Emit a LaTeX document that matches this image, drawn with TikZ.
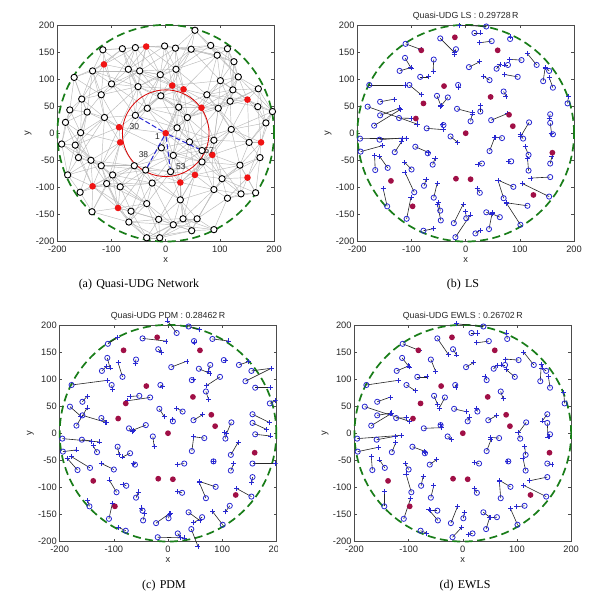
\documentclass[tikz,border=0pt]{standalone}
\usepackage{fontspec}
\setmainfont{Liberation Serif}
\setsansfont{Liberation Sans}
\usetikzlibrary{shapes.misc}
\definecolor{grn}{RGB}{25,125,25}
\definecolor{anch}{RGB}{160,15,70}
\definecolor{mblue}{RGB}{40,40,210}
\definecolor{ared}{RGB}{240,20,20}
\tikzset{
 framec/.style={draw=black!70, line width=0.5pt},
 ticklab/.style={font=\sffamily\fontsize{9.3}{10}\selectfont, inner sep=0pt, text=black!85},
 titlelab/.style={font=\sffamily\fontsize{8.8}{10}\selectfont, inner sep=0pt, text=black!85},
 caplab/.style={font=\fontsize{12}{14}\selectfont, inner sep=0pt},
 boundary/.style={draw=grn, line width=1.7pt, dash pattern=on 8pt off 4.5pt},
 mesh/.style={draw=black!27, line width=0.45pt},
 snode/.style={circle, draw=black, line width=0.9pt, fill=white, minimum size=6.3pt, inner sep=0pt},
 sanchor/.style={circle, fill=ared, minimum size=6.6pt, inner sep=0pt},
 rangec/.style={draw=red!85!black, line width=0.8pt},
 nbline/.style={draw=mblue, line width=1pt, dash pattern=on 5pt off 2.5pt},
 nlab/.style={font=\sffamily\fontsize{8.5}{9}\selectfont, inner sep=0pt, text=black!85},
 tnode/.style={circle, draw=mblue, line width=0.8pt, minimum size=5.2pt, inner sep=0pt},
 panchor/.style={circle, fill=anch, minimum size=5.8pt, inner sep=0pt},
 estmark/.style={cross out, draw=mblue, rotate=45, line width=0.75pt, minimum size=2.8pt, inner sep=0pt},
 errline/.style={draw=black!85, line width=0.6pt},
 datascope/.style={x=0.5417pt, y=0.5417pt}
}
\newcommand\plotframe[1]{%
  \draw[framec] (-200,-200) rectangle (200,200);
  \foreach \t [count=\k] in {-200,-100,0,100,200}{%
    \draw[framec] (\t,-200) -- (\t,-195) (\t,200) -- (\t,195);
    \node[ticklab,anchor=north] (#1x\k) at (\t,-207) {\t};}
  \foreach \t [count=\k] in {-200,-150,...,200}{%
    \draw[framec] (-200,\t) -- (-195,\t) (200,\t) -- (195,\t);
    \node[ticklab,anchor=east] (#1y\k) at (-205,\t) {\t};}
  \node[ticklab] (#1xl) at (0,-234) {x};
  \node[ticklab,rotate=90] (#1yl) at (-254,0) {y};
}
\def\Alist{54/190/0, -116/154/0, -80/156/0, -56/158/0, -36/160/1, -2/161/0, 18/157/0, 47/155/0, 83/162/0, 114/156/0,
95/144/0, -114/127/1, -135/115/0, -69/118/0, -48/115/0, -10/108/0, 19/118/0, 126/132/0, -169/103/0, 101/97/0,
134/104/0, -100/91/0, -51/86/0, 12/88/1, 33/81/1, 124/80/0, 171/82/0, -155/63/0, -119/71/0, -9/69/0,
76/71/0, -177/43/0, -145/39/0, -34/46/0, 24/48/0, 66/47/1, 97/46/0, 119/59/0, 151/62/1, 170/49/0,
197/40/0, -185/20/0, -113/29/0, -56/33/0, -86/11/1, 40/29/0, 185/19/0, -157/1/0, 0/0/1, 21/10/0,
121/7/0, -192/-20/0, -167/-22/0, -84/-17/1, 44/-16/0, 89/-13/0, 154/-17/0, 176/-17/1, -8/-27/0, 67/-32/0,
86/-40/1, 14/-41/0, -161/-45/0, -138/-50/0, 67/-53/0, 174/-45/0, -119/-60/0, -58/-60/0, 137/-59/0, -98/-77/0,
-37/-68/0, 9/-71/0, 54/-77/1, 151/-82/1, -181/-77/0, 104/-84/0, -135/-98/1, -109/-93/0, -84/-99/0, -25/-92/0,
27/-91/1, -158/-109/0, 89/-104/0, 114/-120/0, 139/-112/0, 166/-110/0, 27/-123/0, -35/-130/0, -88/-138/1, -136/-145/0,
-64/-144/0, -68/-164/0, -13/-159/0, 14/-169/0, 32/-158/0, 58/-158/0, 48/-180/0, 89/-178/0, -35/-193/0, -11/-193/0}
\def\Blist{38/197/-80/-4/32/10/-80/-8, 16/185/19/0/-27/-36/17/0, 48/170/-36/5/2/4/-36/5, 82/174/0/-6/48/6/-2/-18,
-111/165/46/17/30/-20/50/20, -47/175/43/43/70/8/33/48, -18/155/-5/15/10/10/10/17, -112/139/18/30/8/30/21/27,
-122/115/34/-10/14/-14/36/-15, -59/136/-2/35/-3/12/14/35, -84/104/26/0/-13/-42/29/0, -178/89/108/0/107/-14/95/-14,
-104/89/35/29/3/14/26/17, -14/89/0/6/7/4/2/6, 6/122/32/-16/47/-18/23/-14, 57/119/10/-12/33/14/10/-11,
78/126/-10/0/-5/18/-10/0, 103/135/-35/-2/4/0/-40/-3, 131/126/-28/-34/29/-10/-30/-38, 96/104/-39/-7/-40/26/-25/-21,
44/98/-18/-12/4/-3/-5/-10, 143/96/6/-42/78/-39/3/-50, 154/115/-10/-9/60/-8/-13/-9, 161/84/-11/-30/45/0/-5/-35,
70/77/7/14/8/24/7/21, -33/66/-22/27/-68/10/-17/32, -53/69/12/30/-28/2/10/25, -158/58/42/-8/14/-17/39/-14,
-181/49/148/52/32/28/134/44, -158/33/59/-22/70/21/42/-7, -169/14/78/-48/32/-53/58/-35, -123/28/36/1/15/13/30/-1,
-16/45/46/12/15/24/37/9, 9/22/5/-22/-1/-5/5/-13, 27/40/0/-18/-18/-10/-2/-10, 47/24/49/-20/28/-17/25/-14,
-72/9/50/4/10/10/53/-2, -41/15/-2/-1/-38/15/0/-2, -28/-6/20/17/4/30/12/8, 67/-9/-21/-3/-33/-4/-25/-2,
44/-33/16/-42/6/-45/13/-34, 106/-10/-9/-12/-2/-18/-7/-19, 117/20/-25/42/-14/32/-22/30, 156/35/-3/12/51/25/-15/20,
156/19/4/31/43/20/2/42, 161/-2/-5/-2/45/5/-3/6, -195/-10/138/-1/112/10/134/-10, -159/-12/67/-5/30/4/55/-10,
-194/-34/66/-18/40/-5/62/-13, -131/-35/21/-32/-12/-19/12/-29, -93/-25/39/17/4/22/35/13, -70/-37/3/-3/-22/11/2/-2,
-61/-58/7/-18/-5/-3/20/-15, -167/-68/-2/-44/-31/-35/-3/-40, -144/-64/-24/-34/-56/-34/-16/-24, 30/-56/-12/2/-21/3/-15/-4,
116/-40/-10/-24/22/-38/-3/-26, 116/-69/-3/-36/9/-22/-8/-37, 84/-52/-7/0/-1/0/-2/0, 156/-81/-58/3/-2/17/-53/11,
156/-56/5/-20/70/0/14/3, -100/-67/-20/-21/-37/-18/-10/-18, -95/-109/-28/-60/-22/-37/-16/-55, -77/-97/6/-18/-10/-5/6/-28,
26/-110/-8/-13/-13/-3/-8/-13, 88/-99/-46/-20/-48/-16/-32/-19, 70/-120/-17/-54/-20/-47/-4/-50, 154/-117/-80/-39/-44/-24/-68/-34,
114/-134/-63/-9/-13/18/-24/3, 101/-169/-42/-65/-30/-39/-21/-48, -59/-119/10/-42/7/-17/9/-37, -47/-143/-5/-25/-3/-8/-20/0,
-46/-161/-10/-48/5/-20/-27/-32, -109/-158/13/-65/10/-45/20/-60, -145/-135/-12/-53/-5/-17/0/-45, -22/-166/28/-56/42/-30/20/-50,
-19/-192/45/-67/80/2/28/-30, 1/-157/-2/-20/3/-13/3/-18, 38/-146/17/5/34/25/20/15, 63/-155/-23/-10/-25/17/-22/2,
43/-177/10/-51/20/52/11/-36, 18/-185/15/-10/7/12/-13/2, -78/-180/30/-6/-22/-10/18/7, 188/55/3/-22/18/-8/-3/-34}
\def\Anch{-20/177, -82/153, 59/153, -40/87, 46/67, -78/55, -92/27, 80/34, 87/13, 0/0, 160/-36, -138/-88, -18/-84, 9/-85, 125/-114, -98/-135}
\begin{document}
\begin{tikzpicture}[x=1pt,y=-1pt]
\useasboundingbox (0,0) rectangle (600,600);
\fill[white] (0,0) rectangle (600,600);
% ---------------- panel (a)
\begin{scope}[shift={(165.7pt,-133.2pt)}, datascope]
  \plotframe{a}
  \foreach \x/\y/\t [count=\i] in \Alist {\coordinate (a\i) at (\x,\y);}
  \foreach \xa/\ya/\ta [count=\i] in \Alist {
    \foreach \xb/\yb/\tb [count=\j] in \Alist {
      \ifnum\j>\i
        \pgfmathsetmacro\dd{veclen((\xa)-(\xb),(\ya)-(\yb))}
        \pgfmathtruncatemacro\keep{or(\dd<62, and(\dd<90, mod(\i*7+\j*13,2)==0))}
        \ifnum\keep=1 \draw[mesh] (a\i) -- (a\j); \fi
      \fi
    }
  }
  \draw[boundary] (0,0) circle (200);
  \draw[rangec] (0,0) circle (80);
  \foreach \x/\y/\t [count=\i] in \Alist {
    \ifnum\t=1 \node[sanchor] (an\i) at (a\i) {}; \else \node[snode] (an\i) at (a\i) {}; \fi
  }
  \draw[nbline] (an49) -- (an44);
  \draw[nbline] (an49) -- (an71);
  \draw[nbline] (an49) -- (an72);
  \draw[nbline] (an49) -- (an60);
  \node[nlab] (l30) at (-58,12) {30};
  \node[nlab] (l1) at (-15,-7) {1};
  \node[nlab] (l38) at (-41,-40) {38};
  \node[nlab] (l53) at (28,-62) {53};
  \node[nlab] (l57) at (80,-32) {57};
\end{scope}
\node[caplab] (capa) at (139,285) {(a)\hspace{0.35em}Quasi-UDG Network};
% ---------------- panel (b)
\begin{scope}[shift={(465.7pt,-133.2pt)}, datascope]
  \plotframe{b}
  \node[titlelab] (bt) at (0,216) {Quasi-UDG LS : 0.29728\,R};
  \draw[boundary] (0,0) circle (200);
  \foreach \x/\y/\qa/\qb/\qc/\qd/\qe/\qf [count=\i] in \Blist {
    \coordinate (b\i) at (\x,\y);
    \coordinate (be\i) at ({\x+(\qa)/1.625},{\y-(\qb)/1.625});
    \draw[errline] (b\i) -- (be\i);
  }
  \foreach \x/\y/\qa/\qb/\qc/\qd/\qe/\qf [count=\i] in \Blist {\node[tnode] (bn\i) at (b\i) {};}
  \foreach \x/\y/\qa/\qb/\qc/\qd/\qe/\qf [count=\i] in \Blist {\node[estmark] (bm\i) at (be\i) {};}
  \foreach \x/\y [count=\i] in \Anch {\node[panchor] (bp\i) at (\x,\y) {};}
\end{scope}
\node[caplab] (capb) at (463,285) {(b)\hspace{0.35em}LS};
% ---------------- panel (c)
\begin{scope}
\clip (0,290) rectangle (277.5,580);
\begin{scope}[shift={(168pt,-433.2pt)}, datascope]
  \plotframe{c}
  \node[titlelab] (ct) at (0,216) {Quasi-UDG PDM : 0.28462\,R};
  \draw[boundary] (0,0) circle (200);
  \foreach \x/\y/\qa/\qb/\qc/\qd/\qe/\qf [count=\i] in \Blist {
    \coordinate (c\i) at (\x,\y);
    \coordinate (ce\i) at ({\x+(\qc)/1.625},{\y-(\qd)/1.625});
    \draw[errline] (c\i) -- (ce\i);
  }
  \foreach \x/\y/\qa/\qb/\qc/\qd/\qe/\qf [count=\i] in \Blist {\node[tnode] (cn\i) at (c\i) {};}
  \foreach \x/\y/\qa/\qb/\qc/\qd/\qe/\qf [count=\i] in \Blist {\node[estmark] (cm\i) at (ce\i) {};}
  \foreach \x/\y [count=\i] in \Anch {\node[panchor] (cp\i) at (\x,\y) {};}
\end{scope}
\end{scope}
\node[caplab] (capc) at (164,586) {(c)\hspace{0.35em}PDM};
% ---------------- panel (d)
\begin{scope}[shift={(462.8pt,-433.2pt)}, datascope]
  \plotframe{d}
  \node[titlelab] (dt) at (0,216) {Quasi-UDG EWLS : 0.26702\,R};
  \draw[boundary] (0,0) circle (200);
  \foreach \x/\y/\qa/\qb/\qc/\qd/\qe/\qf [count=\i] in \Blist {
    \coordinate (d\i) at (\x,\y);
    \coordinate (de\i) at ({\x+(\qe)/1.625},{\y-(\qf)/1.625});
    \draw[errline] (d\i) -- (de\i);
  }
  \foreach \x/\y/\qa/\qb/\qc/\qd/\qe/\qf [count=\i] in \Blist {\node[tnode] (dn\i) at (d\i) {};}
  \foreach \x/\y/\qa/\qb/\qc/\qd/\qe/\qf [count=\i] in \Blist {\node[estmark] (dm\i) at (de\i) {};}
  \foreach \x/\y [count=\i] in \Anch {\node[panchor] (dp\i) at (\x,\y) {};}
\end{scope}
\node[caplab] (capd) at (465,586) {(d)\hspace{0.35em}EWLS};
\end{tikzpicture}
\end{document}
